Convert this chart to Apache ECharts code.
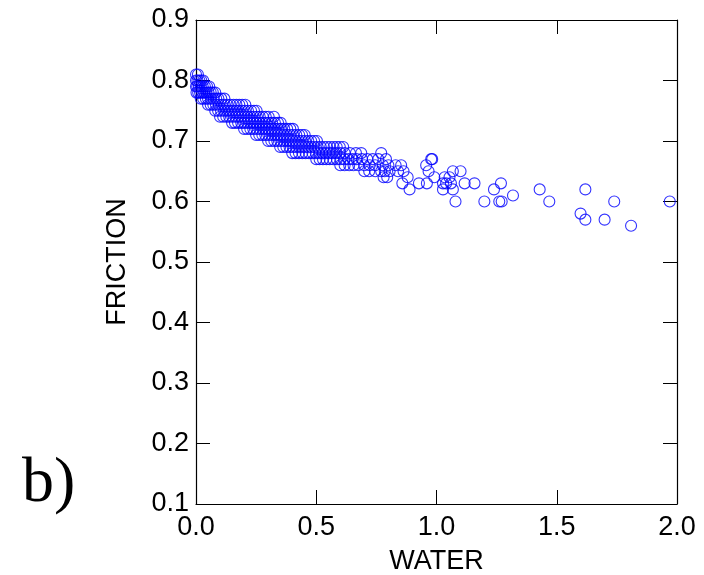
<!DOCTYPE html>
<html>
<head>
<meta charset="utf-8">
<script src="https://cdn.jsdelivr.net/npm/echarts@6/dist/echarts.min.js"></script>
<style>
  html, body { margin: 0; padding: 0; background: #fff; }
  #chart { width: 704px; height: 575px; }
</style>
</head>
<body>
<div id="chart"></div>
<script>
// friction levels of the dense band, and the water values seen on each level
const frictionLevels = [0.81, 0.80, 0.79, 0.78, 0.77, 0.76, 0.75, 0.74, 0.73, 0.72, 0.71, 0.70, 0.69, 0.68, 0.67, 0.66, 0.65, 0.64]
const waterByLevel = [
  [0.000, 0.008],
  [0.000, 0.006, 0.014, 0.022, 0.030],
  [0.000, 0.005, 0.012, 0.020, 0.028, 0.037, 0.046, 0.055],
  [0.002, 0.009, 0.017, 0.026, 0.034, 0.043, 0.052, 0.061, 0.070, 0.080],
  [0.020, 0.030, 0.041, 0.050, 0.062, 0.073, 0.084, 0.093, 0.105, 0.118],
  [0.050, 0.061, 0.072, 0.083, 0.095, 0.108, 0.119, 0.131, 0.143, 0.156, 0.168, 0.180, 0.192, 0.205],
  [0.080, 0.092, 0.104, 0.117, 0.129, 0.141, 0.153, 0.166, 0.178, 0.191, 0.203, 0.216, 0.229, 0.241, 0.252],
  [0.100, 0.113, 0.126, 0.138, 0.151, 0.164, 0.176, 0.188, 0.201, 0.214, 0.227, 0.240, 0.253, 0.265, 0.278, 0.290, 0.302, 0.324],
  [0.150, 0.162, 0.175, 0.188, 0.200, 0.213, 0.226, 0.239, 0.251, 0.264, 0.277, 0.290, 0.303, 0.316, 0.328, 0.341, 0.352],
  [0.200, 0.213, 0.226, 0.238, 0.251, 0.264, 0.277, 0.290, 0.302, 0.315, 0.328, 0.341, 0.354, 0.367, 0.379, 0.392, 0.403],
  [0.250, 0.263, 0.276, 0.288, 0.301, 0.314, 0.327, 0.340, 0.352, 0.365, 0.378, 0.391, 0.404, 0.417, 0.429, 0.441, 0.452],
  [0.300, 0.313, 0.326, 0.338, 0.351, 0.364, 0.377, 0.390, 0.402, 0.415, 0.428, 0.441, 0.454, 0.467, 0.479, 0.491, 0.503],
  [0.350, 0.363, 0.376, 0.389, 0.402, 0.415, 0.428, 0.441, 0.454, 0.467, 0.480, 0.493, 0.506, 0.519, 0.532, 0.545, 0.558, 0.572, 0.585, 0.598, 0.612],
  [0.400, 0.414, 0.428, 0.442, 0.456, 0.470, 0.484, 0.498, 0.512, 0.526, 0.540, 0.555, 0.569, 0.584, 0.600, 0.618, 0.640, 0.665, 0.687, 0.770],
  [0.500, 0.514, 0.528, 0.542, 0.556, 0.571, 0.586, 0.601, 0.617, 0.634, 0.651, 0.668, 0.690, 0.712, 0.735, 0.758, 0.790],
  [0.600, 0.618, 0.637, 0.655, 0.675, 0.700, 0.722, 0.745, 0.777, 0.800, 0.830, 0.853],
  [0.700, 0.720, 0.745, 0.770, 0.785, 0.805, 0.840, 0.863],
  [0.780, 0.795, 0.880]
]

// scattered points on the wet side
const sparseWater = [0.858, 0.888, 0.927, 0.957, 0.960, 0.967, 0.978, 0.982, 0.991, 1.027, 1.027, 1.034, 1.040, 1.054, 1.060, 1.068, 1.068, 1.079, 1.100, 1.117, 1.158, 1.199, 1.239, 1.261, 1.268, 1.271, 1.318, 1.429, 1.469, 1.599, 1.619, 1.619, 1.699, 1.739, 1.809, 1.970]
const sparseFriction = [0.63, 0.62, 0.63, 0.66, 0.63, 0.65, 0.67, 0.67, 0.64, 0.62, 0.63, 0.64, 0.63, 0.64, 0.63, 0.65, 0.62, 0.60, 0.65, 0.63, 0.63, 0.60, 0.62, 0.60, 0.63, 0.60, 0.61, 0.62, 0.60, 0.58, 0.62, 0.57, 0.57, 0.60, 0.56, 0.60]

const xTicks = ['0.0', '0.5', '1.0', '1.5', '2.0']
const yTicks = ['0.1', '0.2', '0.3', '0.4', '0.5', '0.6', '0.7', '0.8', '0.9']

const points = []
frictionLevels.forEach((f, i) => {
  waterByLevel[i].forEach(w => points.push([w, f]))
})
sparseWater.forEach((w, i) => points.push([w, sparseFriction[i]]))

const font = 'Liberation Sans'
const tickStyle = { show: true, inside: true, length: 14, lineStyle: { color: '#000', width: 1 } }
const lineStyle = { show: true, onZero: false, lineStyle: { color: '#000', width: 1.2 } }

const chart = echarts.init(document.getElementById('chart'))
chart.setOption({
  backgroundColor: '#fff',
  animation: false,
  grid: { left: 196, right: 27, top: 20, bottom: 71, outerBoundsMode: 'none' },
  xAxis: [
    {
      type: 'value', min: 0, max: 2, interval: 0.5,
      name: 'WATER', nameLocation: 'middle', nameGap: 44,
      nameTextStyle: { color: '#000', fontSize: 27, fontFamily: font },
      axisLine: lineStyle, axisTick: tickStyle, splitLine: { show: false },
      axisLabel: {
        color: '#000', fontSize: 27, fontFamily: font, margin: 10,
        formatter: v => xTicks[Math.round(v / 0.5)]
      }
    },
    {
      type: 'value', min: 0, max: 2, interval: 0.5, position: 'top',
      axisLine: lineStyle, axisTick: tickStyle, splitLine: { show: false },
      axisLabel: { show: false }
    }
  ],
  yAxis: [
    {
      type: 'value', min: 0.1, max: 0.9, interval: 0.1,
      name: 'FRICTION', nameLocation: 'middle', nameGap: 65,
      nameTextStyle: { color: '#000', fontSize: 27, fontFamily: font },
      axisLine: lineStyle, axisTick: tickStyle, splitLine: { show: false },
      axisLabel: {
        color: '#000', fontSize: 27, fontFamily: font, margin: 7,
        formatter: v => yTicks[Math.round((v - 0.1) / 0.1)]
      }
    },
    {
      type: 'value', min: 0.1, max: 0.9, interval: 0.1, position: 'right',
      axisLine: lineStyle, axisTick: tickStyle, splitLine: { show: false },
      axisLabel: { show: false }
    }
  ],
  graphic: [
    {
      type: 'text', left: 22, top: 452,
      style: { text: 'b)', font: '64px "Liberation Serif"', fill: '#000' }
    }
  ],
  series: [
    {
      type: 'scatter',
      symbol: 'circle',
      symbolSize: 11,
      itemStyle: { color: 'rgba(0,0,0,0)', borderColor: '#0000ff', borderWidth: 1.1 },
      data: points
    }
  ]
})
</script>
</body>
</html>
